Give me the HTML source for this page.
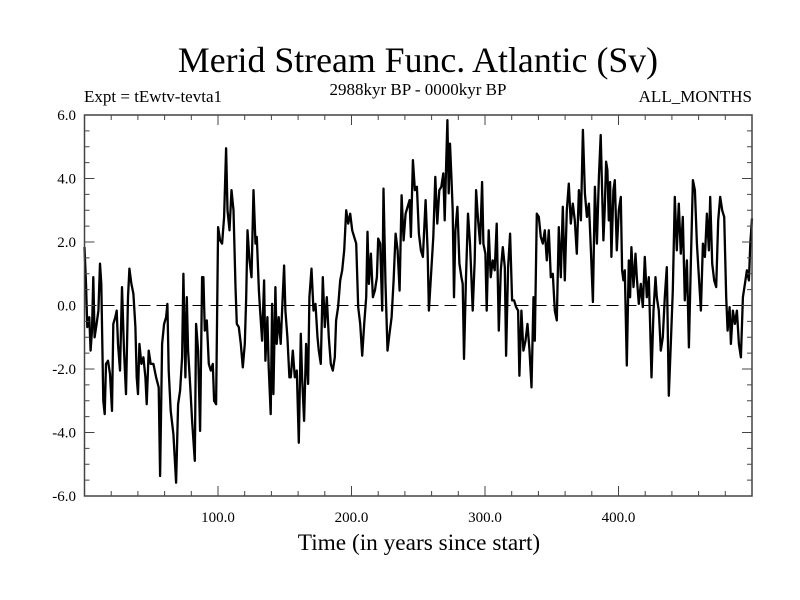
<!DOCTYPE html>
<html><head><meta charset="utf-8"><style>
body{margin:0;background:#fff;}
svg{display:block;font-family:"Liberation Serif",serif;}
</style></head><body>
<svg id="chart" width="800" height="600">
<text x="418" y="72" text-anchor="middle" font-size="35.8">Merid Stream Func. Atlantic (Sv)</text>
<text x="84" y="102" font-size="17">Expt = tEwtv-tevta1</text>
<text x="418" y="95" text-anchor="middle" font-size="17">2988kyr BP - 0000kyr BP</text>
<text x="752" y="102" text-anchor="end" font-size="17">ALL_MONTHS</text>
<text x="419" y="550" text-anchor="middle" font-size="23.3">Time (in years since start)</text>
<g id="plot"></g>
</svg>
<script>
const years=[0,1.1,2.1,3.6,4.6,5.6,6.6,7.6,9.1,10.4,11.6,12.6,14.1,15.1,16.1,17.6,19.1,20.6,21.6,23.1,24.1,25.1,26.6,28.1,29.6,31.1,32.6,33.6,35.1,36.6,38.1,39.1,40.1,41.1,42.6,44.1,45.6,46.6,48.1,49.6,51.6,53.6,55.6,56.6,58.1,59.6,61.1,62.1,63.1,64.6,66.6,68.6,70.1,71.6,73.1,74.1,75.6,76.6,77.6,79.1,80.6,82.6,83.6,85.1,86.6,88.1,89.1,90.1,91.6,93.1,94.6,96.1,97.1,98.6,100.1,101.6,103.1,104.6,106.1,107.1,108.6,110.1,111.6,113.1,114.1,115.6,117.1,118.6,120.1,121.1,122.1,123.6,125.1,126.6,128.1,129.1,130.6,
131.5,133,134.5,135.5,137,138,139.5,140.5,141.5,143,144,145.5,147,148,149.5,150.5,152,153.5,154.5,156,157.5,159,160.5,162,163,164.5,166,167.5,168.5,170,171.5,173,174.5,175.5,177,178.5,180,181.5,183,184.5,186,187.5,188.5,190,191.5,193,194.5,196,197.5,199,200.5,202,203.5,205,206.5,208,209.5,211,212,213,214.5,216,217.5,219,220,221.5,223,224,225.5,227,228.5,230,231.5,233,234.5,236,237.5,239,240.5,242,243.5,244.5,246,247.5,249,250.5,252,253.5,255.5,257,258,
261.3,262.8,264.3,265.8,267.3,268.8,269.8,270.8,271.8,272.8,273.8,274.8,275.8,276.8,277.8,279.3,280.8,282.3,283.3,284.3,285.8,287.3,288.8,289.8,290.8,292.3,293.3,294.8,296.3,297.8,298.8,300.3,301.3,302.8,304.3,305.8,307.3,308.8,310.3,311.8,313.3,314.8,315.8,317.3,318.8,320.3,321.8,323.3,324.8,325.8,327.3,328.8,330.3,331.8,333.3,334.8,336.3,337.3,338.8,340.3,341.8,343.3,344.8,346.3,347.8,349.3,350.8,352.3,353.8,355.3,356.8,358.3,359.8,361.3,362.8,364.3,365.8,367.3,368.8,370.3,371.8,373.3,374.8,376.3,377.8,379.3,380.8,382.3,383.8,385.3,
386.7,387.7,388.7,389.7,390.7,391.7,392.7,393.7,394.7,396.2,397.2,398.7,400.2,401.7,402.7,403.7,404.7,406.2,407.7,408.7,409.7,411.2,412.7,413.7,415.2,416.7,418.2,419.7,421.2,422.7,423.7,424.7,426.2,427.7,428.7,430.2,431.7,433.2,434.7,436.2,437.7,439.2,440.7,442.2,443.7,445.2,446.7,448.2,449.7,451.2,452.7,454.2,455.7,457.2,458.7,460.2,461.7,463.2,464.7,466.2,467.7,468.7,470.2,471.7,473.2,474.7,476.2,477.7,479.2,480.7,481.7,483.2,484.2,485.7,487.2,488.7,490.2,491.7,493.2,494.7,496.2,497.7,498.7,500];
const values=[1.84,0.68,-0.68,-0.37,-1.42,-0.79,0.89,-1.0,-0.58,-0.16,1.32,0.68,-3.0,-3.42,-1.84,-1.74,-2.16,-3.32,-0.58,-0.37,-0.16,-1.21,-2.05,0.58,-1.42,-2.79,0.26,1.16,0.68,0.37,-0.68,-2.26,-2.79,-1.21,-1.84,-1.63,-2.26,-3.11,-1.42,-1.84,-1.84,-2.26,-2.58,-5.37,-1.21,-0.58,-0.37,0.05,-2.05,-3.32,-4.05,-5.58,-3.11,-2.68,-1.63,1.0,-2.26,0.26,-1.42,-2.47,-3.63,-4.89,-0.58,-1.42,-3.95,0.89,0.89,-0.79,-0.47,-1.84,-2.05,-1.84,-3.0,-3.11,2.47,2.05,1.95,2.79,4.95,3.0,2.37,3.63,3.0,0.58,-0.58,-0.68,-1.21,-1.95,-1.21,0.26,2.37,1.42,0.89,3.63,1.95,2.16,0.47,
-0.16,-1.11,0.79,-1.74,-0.37,-1.95,-3.42,0.05,-2.79,0.58,-1.21,-0.37,-1.21,-0.16,1.26,-0.16,-1.0,-2.26,-2.26,-1.42,-2.26,-2.05,-4.32,-0.89,-2.26,-3.63,-1.21,-2.47,0.26,1.16,-0.16,0.05,-1.0,-1.42,-1.84,0.89,-0.68,0.26,-1.0,-1.84,-2.05,-1.63,-0.47,-0.05,0.79,1.11,1.74,3.0,2.58,2.89,2.37,2.16,1.95,-0.05,-0.58,-1.58,-0.58,0.26,2.32,0.68,1.63,0.26,0.47,0.89,2.11,1.95,-0.16,3.68,0.68,-1.42,-0.89,-0.37,0.79,2.26,1.74,0.47,3.47,2.05,2.89,3.11,3.32,2.16,4.58,3.63,3.74,2.26,1.74,1.53,3.32,1.74,-0.16,
2.16,4.05,2.58,3.63,3.74,4.16,2.68,4.26,5.84,3.53,5.1,4.05,3.0,0.26,2.37,3.11,1.32,0.89,0.68,-1.68,0.89,2.89,1.95,0.89,-0.16,1.42,3.63,2.68,1.95,3.89,1.95,1.63,-0.16,2.37,0.89,1.42,1.11,2.58,-0.79,1.11,1.84,1.21,-1.58,1.21,2.26,0.16,0.16,-0.05,-0.16,-2.21,-0.16,-1.42,-1.11,-0.58,-1.42,-2.58,0.26,-1.11,2.89,2.79,2.16,1.95,2.37,1.42,2.37,0.89,1.0,-0.16,-0.47,2.47,0.89,3.11,0.79,3.0,3.84,2.58,3.21,2.68,1.63,3.63,2.68,5.53,3.53,2.79,3.21,1.74,0.11,3.74,1.95,4.05,
5.37,3.63,2.05,3.0,4.53,4.26,2.68,3.89,1.53,3.63,3.95,1.74,3.0,3.42,1.11,0.79,1.11,-1.89,1.42,0.26,1.84,0.58,1.63,0.89,0.05,0.68,-0.05,1.53,0.26,0.89,-0.58,-2.26,-0.16,0.89,0.26,-0.16,-1.42,-1.0,0.26,1.21,-2.84,-1.21,0.47,3.42,1.74,3.21,1.63,2.79,0.16,1.42,-1.32,1.42,3.95,3.63,1.95,0.89,-0.16,1.95,1.53,2.89,1.74,3.42,1.32,0.79,0.58,2.68,3.42,3.0,2.79,0.26,-0.79,-0.05,-1.21,-0.16,-0.58,-0.16,-1.21,-1.63,0.26,0.68,1.11,0.79,1.95,2.74];
const yTicks=[-6,-4,-2,0,2,4,6];
const yTickLabels=["-6.0","-4.0","-2.0","0.0","2.0","4.0","6.0"];
const xTicks=[100,200,300,400];
const xTickLabels=["100.0","200.0","300.0","400.0"];

const L=84.5,R=752,T=115,B=496;
const X=v=>L+(v-0)/(500-0)*(R-L);
const Y=v=>B-(v-(-6))/12*(B-T);
const NS='http://www.w3.org/2000/svg';
const g=document.getElementById('plot');
function mk(tag,attrs,parent){const e=document.createElementNS(NS,tag);for(const k in attrs)e.setAttribute(k,attrs[k]);(parent||g).appendChild(e);return e;}

let z=mk('line',{x1:L,x2:R,y1:Y(0),y2:Y(0),stroke:'#000','stroke-width':1,'stroke-dasharray':'12,6'});



let d='';years.forEach((yr,i)=>{d+=(i?'L':'M')+X(yr).toFixed(1)+','+Y(values[i]).toFixed(1);});
let p=mk('path',{d:d,fill:'none',stroke:'#000','stroke-width':2.3,'stroke-linejoin':'round'});



const tk=mk('g',{stroke:'#444','stroke-width':1});


for(let v=-6;v<=6.001;v+=0.5){const maj=Math.abs(v/2-Math.round(v/2))<1e-6;const len=maj?10:5;
 mk('line',{x1:L,x2:L+len,y1:Y(v),y2:Y(v)},tk);mk('line',{x1:R,x2:R-len,y1:Y(v),y2:Y(v)},tk);}
for(let v=20;v<500;v+=20){const maj=v%100===0;const len=maj?10:5;
 mk('line',{x1:X(v),x2:X(v),y1:B,y2:B-len},tk);mk('line',{x1:X(v),x2:X(v),y1:T,y2:T+len},tk);}

let f=mk('rect',{x:L,y:T,width:R-L,height:B-T,fill:'none',stroke:'#444','stroke-width':1.5});



yTicks.forEach((v,i)=>{const t=mk('text',{x:76,y:Y(v)+5,'text-anchor':'end','font-size':15});t.textContent=yTickLabels[i];
 
 });
xTicks.forEach((v,i)=>{const t=mk('text',{x:X(v),y:522,'text-anchor':'middle','font-size':15});t.textContent=xTickLabels[i];
 
 });
</script>
</body></html>
